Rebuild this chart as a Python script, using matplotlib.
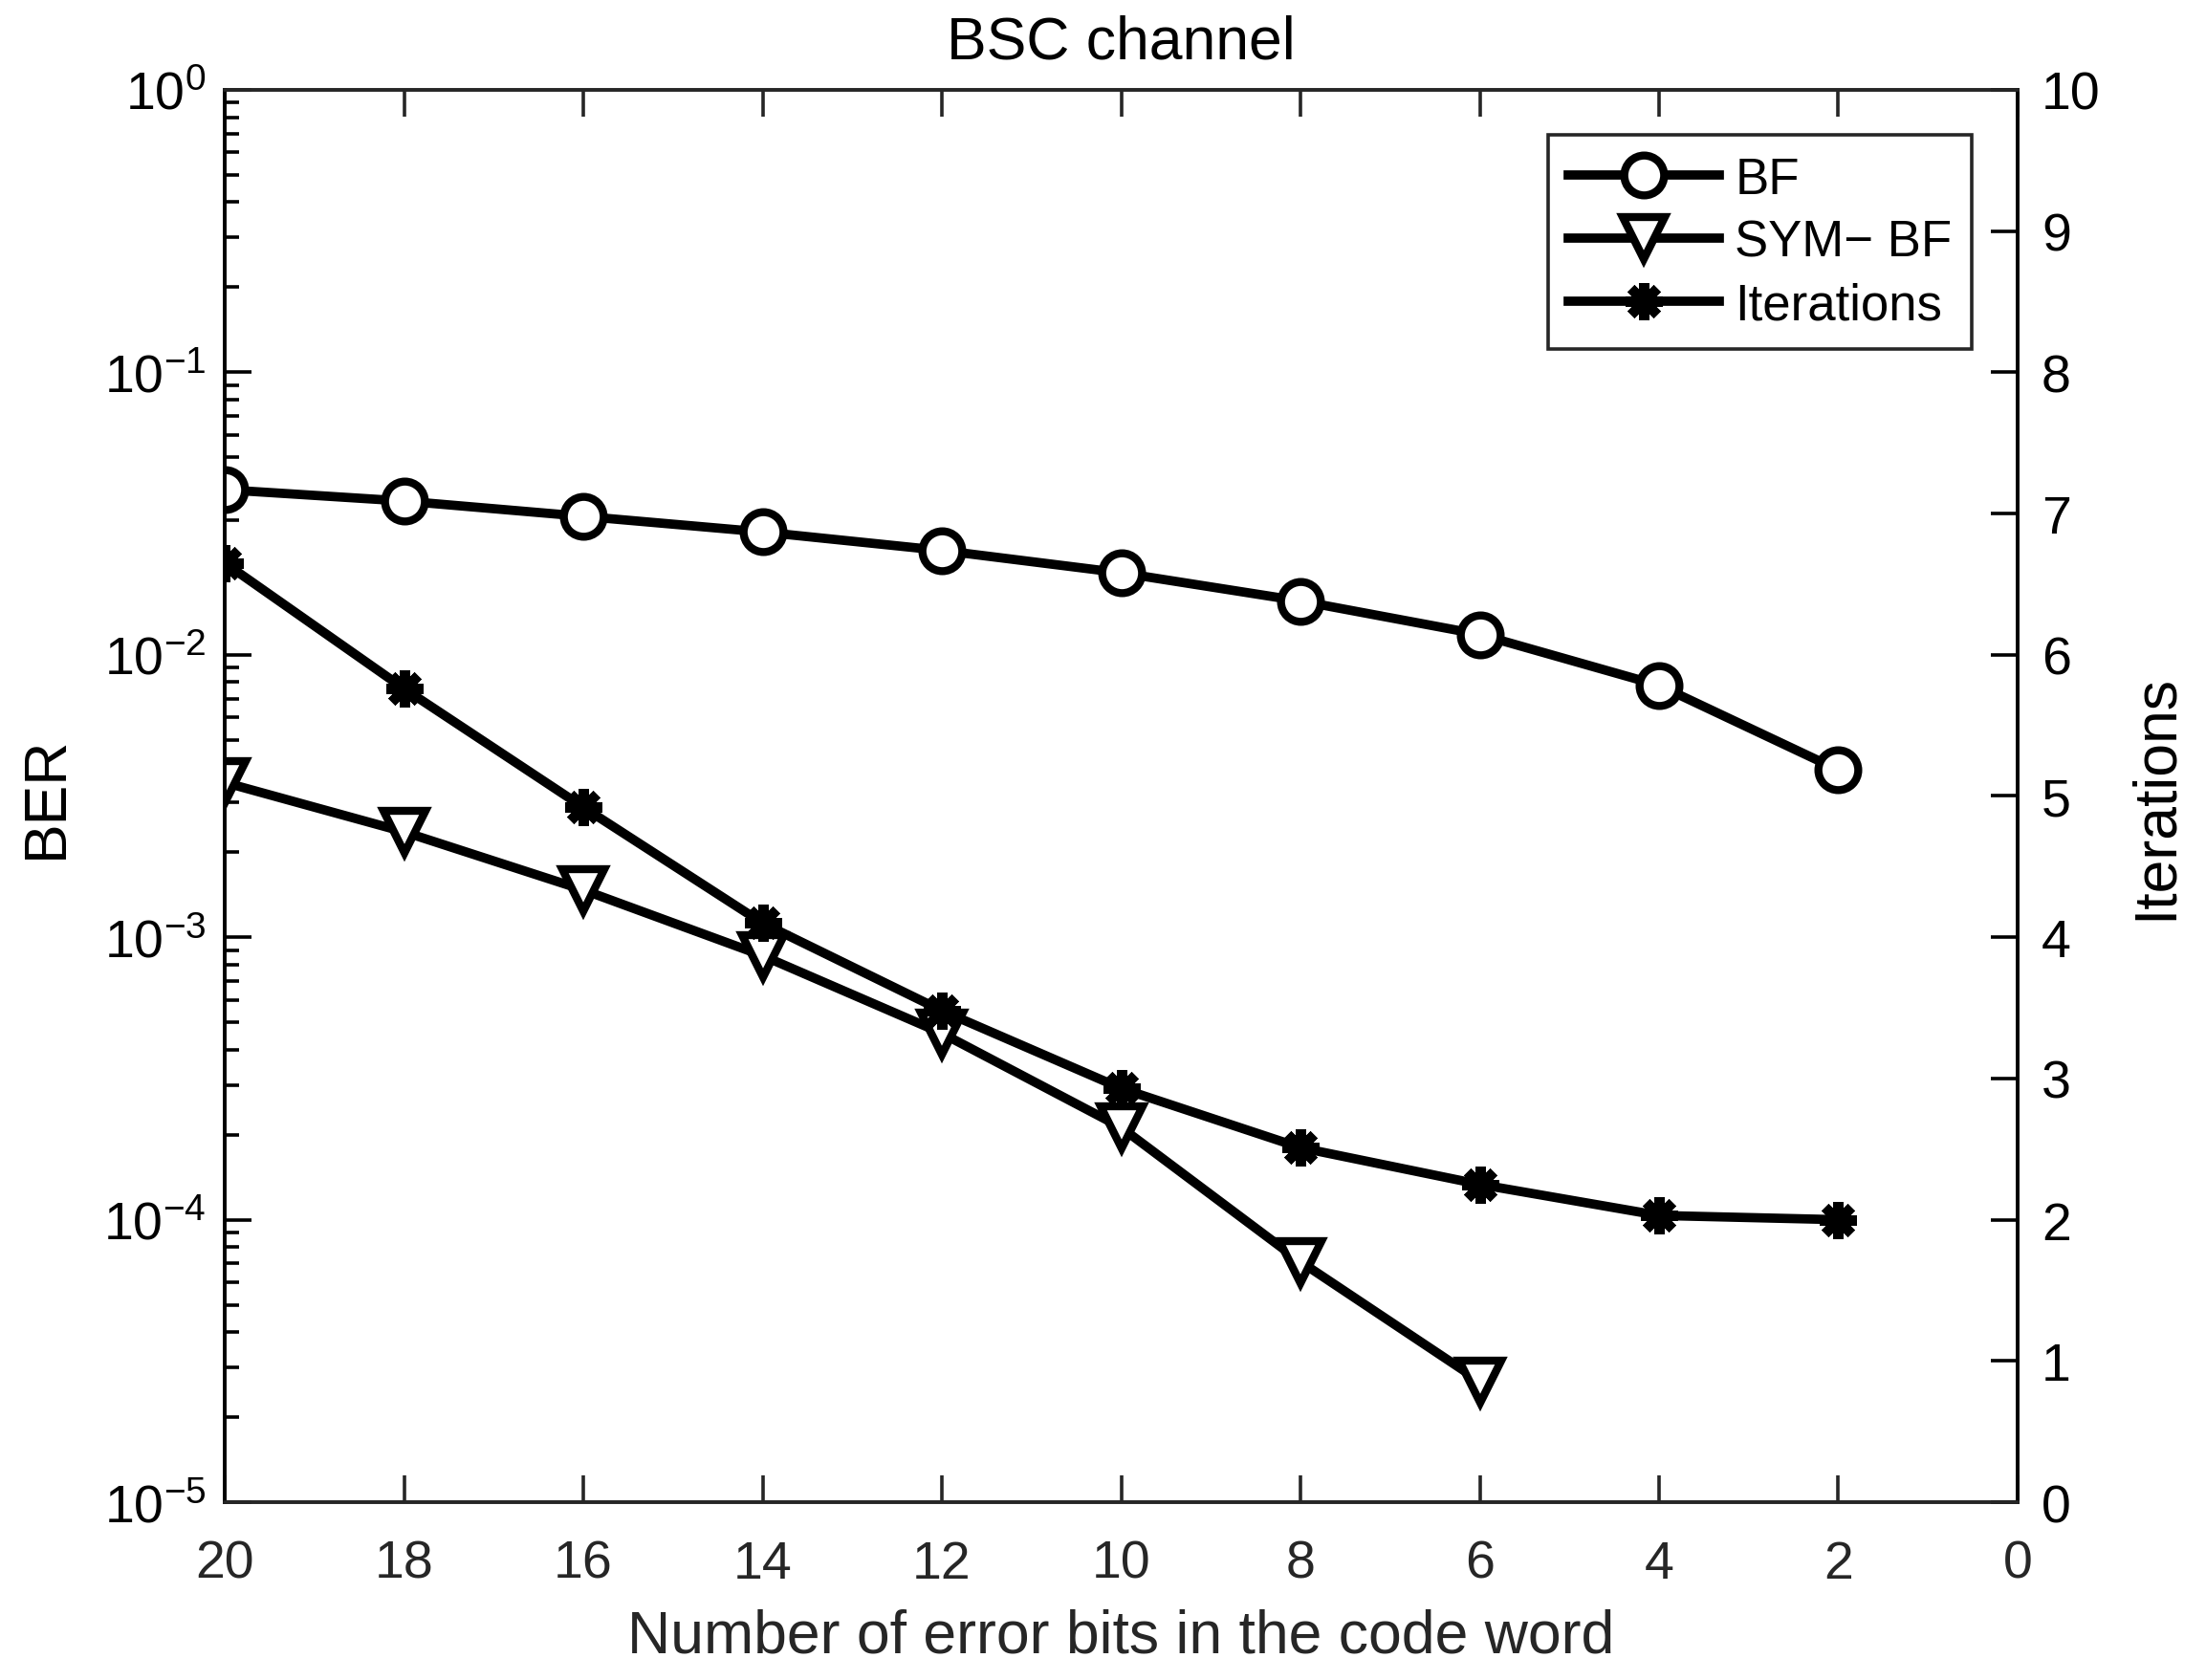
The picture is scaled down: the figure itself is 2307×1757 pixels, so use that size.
import matplotlib
matplotlib.use("Agg")
import matplotlib.pyplot as plt
from matplotlib.ticker import LogLocator, NullFormatter, FixedLocator

plt.rcParams['font.family'] = ['Liberation Sans', 'DejaVu Sans']
plt.rcParams['mathtext.fontset'] = 'custom'
plt.rcParams['mathtext.rm'] = 'Liberation Sans'
plt.rcParams['mathtext.it'] = 'Liberation Sans'

# values
err_bits = [20, 18, 16, 14, 12, 10, 8, 6, 4, 2]
ber_bf = [0.0384, 0.0350, 0.0309, 0.0272, 0.0234, 0.0195, 0.0155, 0.0118, 0.00779, 0.00391]

sym_bits = [20, 18, 16, 14, 12, 10, 8, 6]
ber_sym = [3.53e-3, 2.36e-3, 1.47e-3, 8.6e-4, 4.57e-4, 2.12e-4, 7.1e-5, 2.68e-5]

iterations = [6.65, 5.76, 4.92, 4.10, 3.48, 2.93, 2.51, 2.25, 2.03, 2.00]

x_ticks = list(range(0, 21, 2))
ber_ticks = [1e-5, 1e-4, 1e-3, 1e-2, 1e-1, 1e0]
ber_labels = [r"$\mathregular{10^{-5}}$", r"$\mathregular{10^{-4}}$", r"$\mathregular{10^{-3}}$",
              r"$\mathregular{10^{-2}}$", r"$\mathregular{10^{-1}}$", r"$\mathregular{10^{0}}$"]
iter_ticks = list(range(0, 11))

GRAY = "#262626"
TICK_FS = 40
LABEL_FS = 45
LW = 7

fig = plt.figure(figsize=(23.07, 17.58), dpi=100)
ax = fig.add_axes([0.1019, 0.1058, 0.8127, 0.8402])
ax2 = ax.twinx()

l1, = ax.semilogy(err_bits, ber_bf, color="black", lw=LW, marker="o",
                  ms=30, mfc="white", mec="black", mew=6, label="BF")
l2, = ax.semilogy(sym_bits, ber_sym, color="black", lw=LW, marker="v",
                  ms=32, mfc="white", mec="black", mew=6, label="SYM\u2212 BF")
l3, = ax2.plot(err_bits, iterations, color="black", lw=LW, marker=(8, 2, 0),
               ms=28, mec="black", mew=7.5, label="Iterations")

ax.set_xlim(20, 0)
ax.set_ylim(1e-5, 1)
ax2.set_ylim(0, 10)

ax.xaxis.set_major_locator(FixedLocator(x_ticks))
ax.set_yticks(ber_ticks)
ax.set_yticklabels(ber_labels)
ax.yaxis.set_minor_locator(LogLocator(base=10, subs=range(2, 10), numticks=20))
ax.yaxis.set_minor_formatter(NullFormatter())
ax2.set_yticks(iter_ticks)

ax.tick_params(axis="x", which="both", direction="in", top=True, bottom=True,
               length=20, width=2.6, colors=GRAY, labelsize=TICK_FS, pad=28)
ax.tick_params(axis="y", which="major", direction="in", left=True, right=False,
               length=20, width=2.6, colors="black", labelsize=TICK_FS, pad=14)
ax.tick_params(axis="y", which="minor", direction="in", left=True, right=False,
               length=11, width=2.6, colors="black")
ax2.tick_params(axis="y", which="major", direction="in", right=True, left=False,
                length=20, width=2.6, colors="black", labelsize=TICK_FS, pad=18)

for a in (ax, ax2):
    a.spines["top"].set_color(GRAY)
    a.spines["bottom"].set_color(GRAY)
    a.spines["left"].set_color("black")
    a.spines["right"].set_color("black")
    for s in a.spines.values():
        s.set_linewidth(2.6)

ax.set_xlabel("Number of error bits in the code word", fontsize=LABEL_FS,
              color=GRAY, labelpad=14)
ax.set_ylabel("BER", fontsize=LABEL_FS, color="black", labelpad=22)
ax2.set_ylabel("Iterations", fontsize=LABEL_FS, color="black", rotation=90,
               labelpad=20)
ax.set_title("BSC channel", fontsize=LABEL_FS, color="black", pad=24)

leg = ax2.legend(handles=[l1, l2, l3], loc="upper right", fontsize=38,
                 frameon=True, fancybox=False, edgecolor=GRAY, framealpha=1,
                 handlelength=3.0, borderpad=0.4, labelspacing=0.3,
                 handletextpad=0.3, borderaxespad=0.9)
leg.get_frame().set_linewidth(2.6)

fig.savefig("out.png", dpi=100)
